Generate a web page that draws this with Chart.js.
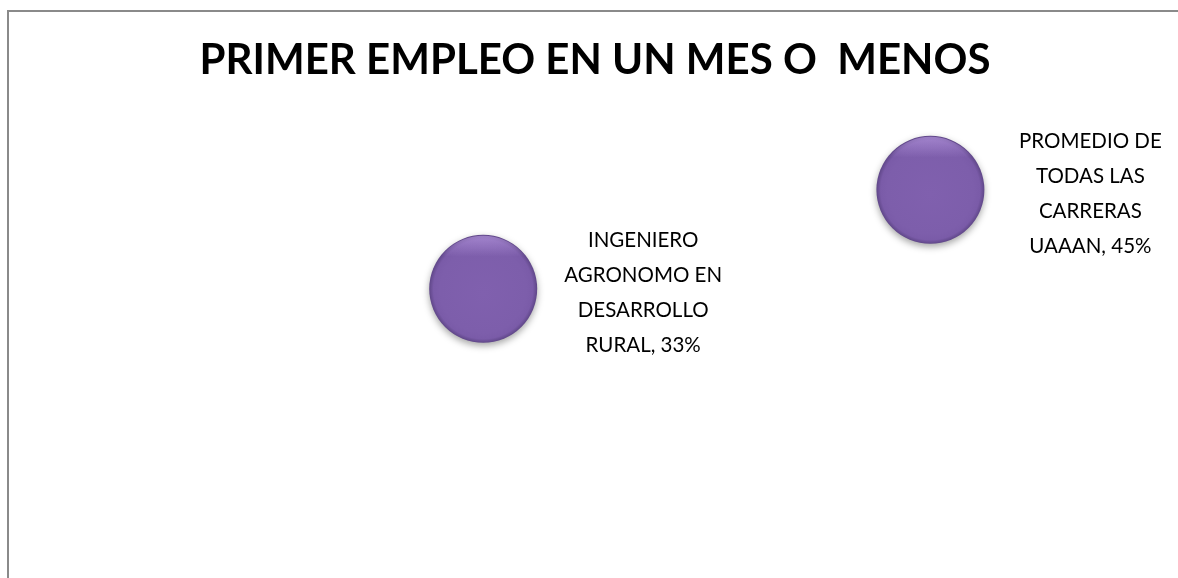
<!DOCTYPE html>
<html>
<head>
<meta charset="utf-8">
<script src="https://cdn.jsdelivr.net/npm/chart.js@4.4.1/dist/chart.umd.min.js"></script>
<style>
    html, body { margin: 0; padding: 0; background: #ffffff; overflow: hidden; }
    #frame {
        position: absolute; left: 7px; top: 10px; right: -10px; bottom: -10px;
        border-top: 2px solid #8a8a8a; border-left: 2px solid #8a8a8a;
    }
    #wrap { position: absolute; left: 0; top: 0; width: 1178px; height: 578px; }
</style>
</head>
<body>
<div id="frame"></div>
<div id="wrap"><canvas id="chart"></canvas></div>
<script>
// Chart data
const chartTitle = 'PRIMER EMPLEO EN UN MES O  MENOS';
const categories = ['INGENIERO AGRONOMO EN DESARROLLO RURAL', 'PROMEDIO DE TODAS LAS CARRERAS UAAAN'];
const labelLines = [
    ['INGENIERO', 'AGRONOMO EN', 'DESARROLLO', 'RURAL, 33%'],
    ['PROMEDIO DE', 'TODAS LAS', 'CARRERAS', 'UAAAN, 45%']
];
const xValues = [1, 2];
const yValues = [0.33, 0.45];
const bubbleSizes = [1, 1];

const BUBBLE_R = 54;

// Radial gradient to mimic the bevelled Excel bubble
function bubbleFill(context) {
    const chart = context.chart;
    const xs = chart.scales.x, ys = chart.scales.y;
    if (!chart.chartArea || !xs || !ys || !context.raw) return '#8064a2';
    const x = xs.getPixelForValue(context.raw.x);
    const y = ys.getPixelForValue(context.raw.y);
    const r = BUBBLE_R * bubbleSizes[context.dataIndex];
    const g = chart.ctx.createRadialGradient(x, y + r * 0.08, 0, x, y, r);
    g.addColorStop(0, '#8060ae');
    g.addColorStop(0.8, '#7d5eab');
    g.addColorStop(0.92, '#7a5ba8');
    g.addColorStop(1, '#5f4688');
    return g;
}

const bubbleShadow = {
    id: 'bubbleShadow',
    beforeDatasetDraw(chart) {
        const ctx = chart.ctx;
        ctx.save();
        ctx.shadowColor = 'rgba(0, 0, 0, 0.35)';
        ctx.shadowBlur = 7;
        ctx.shadowOffsetY = 3;
    },
    afterDatasetDraw(chart) {
        const ctx = chart.ctx;
        ctx.restore();
        // top highlight on each bubble
        const meta = chart.getDatasetMeta(0);
        meta.data.forEach((pt) => {
            const r = pt.options.radius;
            const hl = ctx.createLinearGradient(0, pt.y - r, 0, pt.y - r * 0.6);
            hl.addColorStop(0, 'rgba(200, 170, 240, 0.55)');
            hl.addColorStop(1, 'rgba(200, 170, 240, 0)');
            ctx.save();
            ctx.beginPath();
            ctx.arc(pt.x, pt.y, r - 1, 0, Math.PI * 2);
            ctx.fillStyle = hl;
            ctx.fill();
            ctx.restore();
        });
    }
};

// Data labels to the right of each bubble
const bubbleLabels = {
    id: 'bubbleLabels',
    afterDatasetsDraw(chart) {
        const ctx = chart.ctx;
        const meta = chart.getDatasetMeta(0);
        const lineH = 35;
        ctx.save();
        ctx.font = '20.5px Lato, "Open Sans", sans-serif';
        ctx.fillStyle = '#000000';
        ctx.textAlign = 'center';
        ctx.textBaseline = 'middle';
        meta.data.forEach((pt, i) => {
            const lines = labelLines[i];
            const cx = pt.x + 160;
            const top = pt.y + 4 - (lines.length - 1) * lineH / 2;
            lines.forEach((line, j) => ctx.fillText(line, cx, top + j * lineH));
        });
        ctx.restore();
    }
};

const points = xValues.map((x, i) => ({ x: x, y: yValues[i], label: categories[i] }));

new Chart(document.getElementById('chart'), {
    type: 'bubble',
    data: {
        datasets: [{
            label: 'Primer empleo',
            data: points,
            radius: (c) => BUBBLE_R * bubbleSizes[c.dataIndex],
            backgroundColor: bubbleFill,
            borderWidth: 0,
            hoverRadius: 0,
            clip: false
        }]
    },
    options: {
        responsive: true,
        maintainAspectRatio: false,
        animation: false,
        layout: {
            autoPadding: false,
            padding: { left: 36, right: 24, top: 0, bottom: 17 }
        },
        plugins: {
            legend: { display: false },
            tooltip: { enabled: false },
            title: {
                display: true,
                text: chartTitle,
                color: '#000000',
                font: { family: 'Lato, "Open Sans", sans-serif', size: 42, weight: 'bold' },
                padding: { top: 35, bottom: 22 }
            }
        },
        scales: {
            x: { type: 'linear', min: 0, max: 2.5, display: false },
            y: { type: 'linear', min: 0, max: 0.55, display: false }
        }
    },
    plugins: [bubbleShadow, bubbleLabels]
});
</script>
</body>
</html>
